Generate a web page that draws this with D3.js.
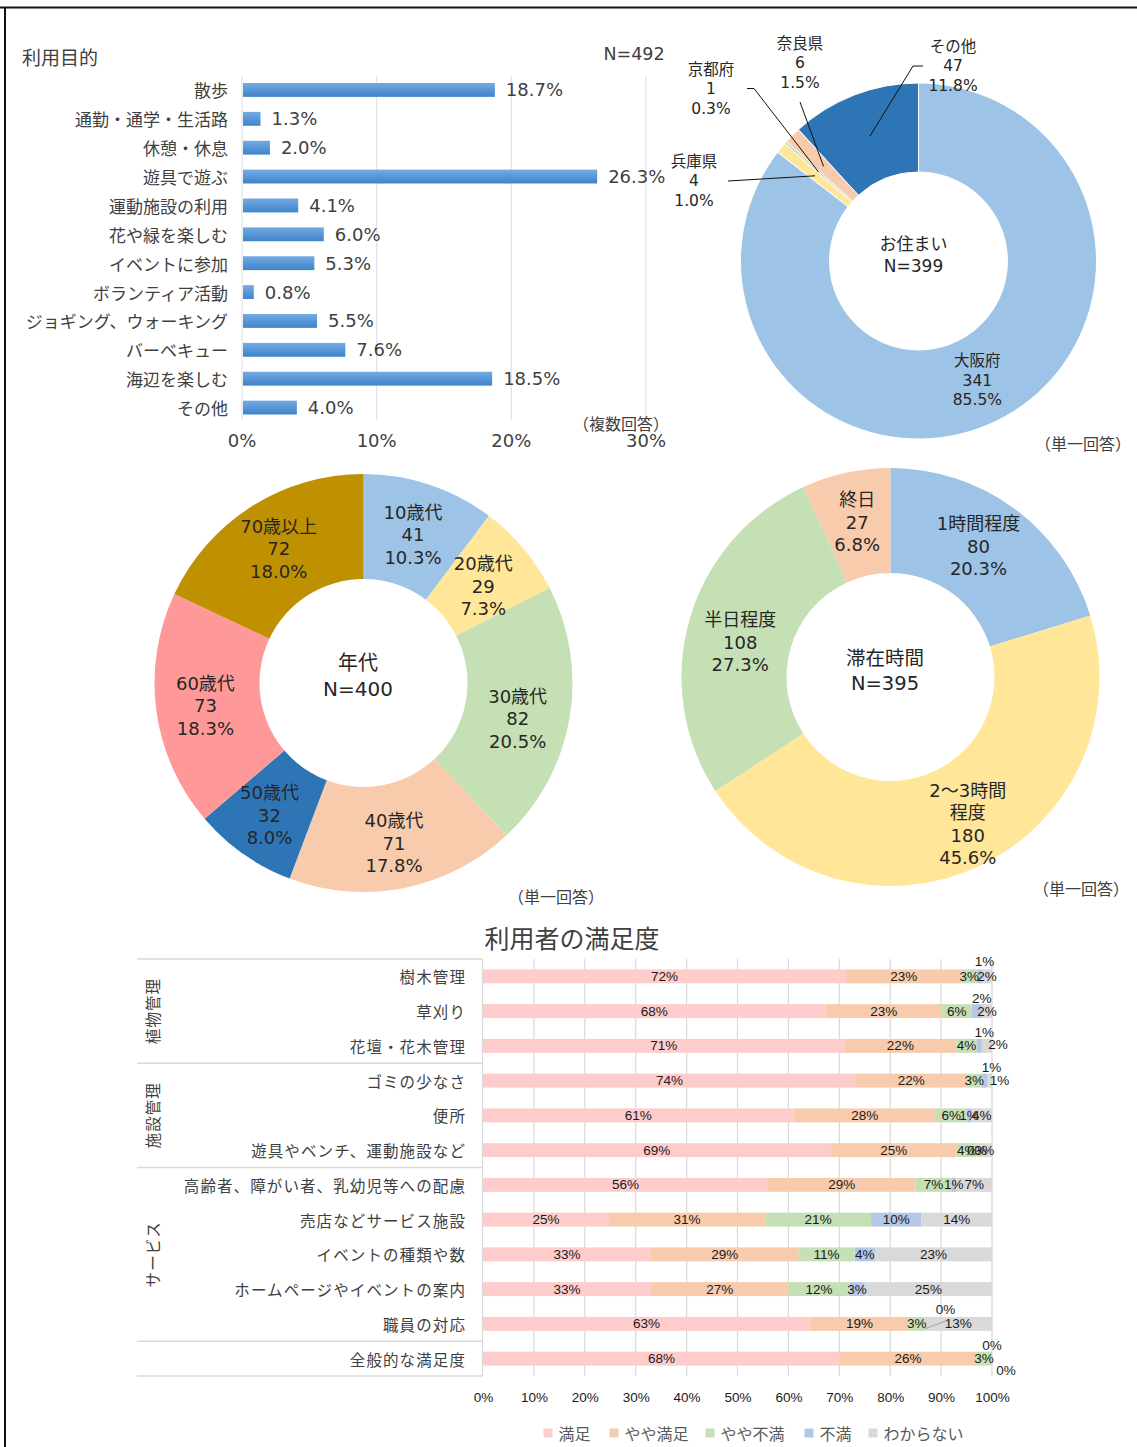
<!DOCTYPE html>
<html>
<head>
<meta charset="utf-8">
<script src="https://cdnjs.cloudflare.com/ajax/libs/d3/7.8.5/d3.min.js"></script>
<style>
  body { margin: 0; background: #fff; }
  svg { display: block; font-family: "DejaVu Sans", "Noto Sans CJK JP", sans-serif; }
  .jp { font-family: "Noto Sans CJK JP", "Noto Sans", sans-serif; }
</style>
</head>
<body>
<svg id="viz" width="1137" height="1447"></svg>
<script>
// ---- 利用目的 (複数回答) ----
const purposeNames = ["散歩", "通勤・通学・生活路", "休憩・休息", "遊具で遊ぶ", "運動施設の利用", "花や緑を楽しむ",
  "イベントに参加", "ボランティア活動", "ジョギング、ウォーキング", "バーベキュー", "海辺を楽しむ", "その他"];
const purposeValues = [18.7, 1.3, 2.0, 26.3, 4.1, 6.0, 5.3, 0.8, 5.5, 7.6, 18.5, 4.0];
const purposeTicks = [0, 10, 20, 30];

// ---- お住まい ----
const homeNames = ["大阪府", "兵庫県", "京都府", "奈良県", "その他"];
const homeCounts = [341, 4, 1, 6, 47];
const homePcts = ["85.5%", "1.0%", "0.3%", "1.5%", "11.8%"];

// ---- 年代 ----
const ageNames = ["10歳代", "20歳代", "30歳代", "40歳代", "50歳代", "60歳代", "70歳以上"];
const ageCounts = [41, 29, 82, 71, 32, 73, 72];
const agePcts = ["10.3%", "7.3%", "20.5%", "17.8%", "8.0%", "18.3%", "18.0%"];

// ---- 滞在時間 ----
const stayNames = ["1時間程度", "2〜3時間\n程度", "半日程度", "終日"];
const stayCounts = [80, 180, 108, 27];
const stayPcts = ["20.3%", "45.6%", "27.3%", "6.8%"];

// ---- 利用者の満足度 ----
const satItems = ["樹木管理", "草刈り", "花壇・花木管理", "ゴミの少なさ", "便所", "遊具やベンチ、運動施設など",
  "高齢者、障がい者、乳幼児等への配慮", "売店などサービス施設", "イベントの種類や数",
  "ホームページやイベントの案内", "職員の対応", "全般的な満足度"];
const satGroupNames = ["植物管理", "施設管理", "サービス", ""];
const satGroupSizes = [3, 3, 5, 1];
const satSeries = ["満足", "やや満足", "やや不満", "不満", "わからない"];
const satManzoku   = [72, 68, 71, 74, 61, 69, 56, 25, 33, 33, 63, 68];
const satYayaMan   = [23, 23, 22, 22, 28, 25, 29, 31, 29, 27, 19, 26];
const satYayaFu    = [3, 6, 4, 3, 6, 4, 7, 21, 11, 12, 3, 3];
const satFuman     = [1, 2, 1, 1, 1, 0, 1, 10, 4, 3, 0, 0];
const satWakaranai = [2, 2, 2, 1, 4, 3, 7, 14, 23, 25, 13, 0];
const satTicks = [0, 0.1, 0.2, 0.3, 0.4, 0.5, 0.6, 0.7, 0.8, 0.9, 1];

const svg = d3.select("#viz");
const txt = "#404040";

// frame
svg.append("line").attr("x1", 0).attr("x2", 1137).attr("y1", 7.5).attr("y2", 7.5)
  .attr("stroke", "#111").attr("stroke-width", 2);
svg.append("line").attr("x1", 5).attr("x2", 5).attr("y1", 7).attr("y2", 1447)
  .attr("stroke", "#111").attr("stroke-width", 2);

// ================= bar chart =================
const defs = svg.append("defs");
const grad = defs.append("linearGradient").attr("id", "barGrad")
  .attr("x1", 0).attr("x2", 0).attr("y1", 0).attr("y2", 1);
grad.append("stop").attr("offset", "0%").attr("stop-color", "#74aae2");
grad.append("stop").attr("offset", "100%").attr("stop-color", "#3e84cb");

const xBar = d3.scaleLinear().domain([0, 30]).range([242, 646]);
const yBar = d3.scaleBand().domain(purposeNames).range([75.5, 422])
  .paddingInner(0.52).paddingOuter(0.26);

const bar = svg.append("g");
bar.selectAll("line.grid").data(purposeTicks).enter().append("line")
  .attr("x1", d => xBar(d)).attr("x2", d => xBar(d))
  .attr("y1", 76).attr("y2", 420)
  .attr("stroke", "#dfe3ea").attr("stroke-width", 1.2);

bar.selectAll("rect").data(purposeValues).enter().append("rect")
  .attr("x", xBar(0) + 1)
  .attr("y", (d, i) => yBar(purposeNames[i]))
  .attr("width", d => xBar(d) - xBar(0))
  .attr("height", yBar.bandwidth())
  .attr("fill", "url(#barGrad)");

bar.selectAll("text.cat").data(purposeNames).enter().append("text")
  .attr("class", "jp")
  .attr("x", 228).attr("y", d => yBar(d) + yBar.bandwidth() / 2)
  .attr("text-anchor", "end").attr("dominant-baseline", "central")
  .attr("font-size", 17).attr("fill", txt).text(d => d);

bar.selectAll("text.val").data(purposeValues).enter().append("text")
  .attr("x", d => xBar(d) + 12)
  .attr("y", (d, i) => yBar(purposeNames[i]) + yBar.bandwidth() / 2)
  .attr("dominant-baseline", "central")
  .attr("font-size", 18).attr("fill", txt).text(d => d.toFixed(1) + "%");

bar.selectAll("text.tick").data(purposeTicks).enter().append("text")
  .attr("x", d => xBar(d)).attr("y", 440)
  .attr("text-anchor", "middle").attr("dominant-baseline", "central")
  .attr("font-size", 18).attr("fill", txt).text(d => d + "%");

bar.append("text").attr("class", "jp").attr("x", 22).attr("y", 56).attr("dominant-baseline", "central")
  .attr("font-size", 19).attr("fill", txt).text("利用目的");
bar.append("text").attr("x", 634).attr("y", 54).attr("text-anchor", "middle").attr("dominant-baseline", "central")
  .attr("font-size", 17.5).attr("fill", txt).text("N=492");
bar.append("text").attr("class", "jp").attr("x", 621).attr("y", 423).attr("text-anchor", "middle").attr("dominant-baseline", "central")
  .attr("font-size", 16).attr("fill", txt).text("（複数回答）");

// ================= donuts =================
function drawDonut(o) {
  const g = svg.append("g").attr("transform", `translate(${o.cx},${o.cy})`);
  const pie = d3.pie().sort(null).value(d => d);
  const arcs = pie(o.counts);
  const arc = d3.arc().innerRadius(o.rIn).outerRadius(o.rOut);

  g.selectAll("path").data(arcs).enter().append("path")
    .attr("d", arc)
    .attr("fill", (d, i) => o.colors[i])
    .attr("stroke", "#fff").attr("stroke-width", o.sep);

  arcs.forEach((a, i) => {
    const lines = o.names[i].split("\n").concat([String(o.counts[i]), o.pcts[i]]);
    let cx, cy;
    const callout = o.callouts && o.callouts[o.names[i]];
    if (callout) {
      cx = callout.lx - o.cx; cy = callout.ly - o.cy;
      const mid = (a.startAngle + a.endAngle) / 2;
      const end = [Math.sin(mid) * 134, -Math.cos(mid) * 134];
      const pts = callout.line.map(p => [p[0] - o.cx, p[1] - o.cy]).concat([end]);
      g.append("path").attr("d", d3.line()(pts))
        .attr("fill", "none").attr("stroke", "#111").attr("stroke-width", 1);
    } else {
      const c = arc.centroid(a);
      const off = (o.shift && o.shift[i]) || [0, 0];
      cx = c[0] + off[0]; cy = c[1] + off[1];
    }
    const t = g.append("text").attr("text-anchor", "middle").attr("font-size", o.fs).attr("fill", "#262626");
    const n = lines.length;
    lines.forEach((ln, k) => {
      t.append("tspan").attr("x", cx)
        .attr("y", cy + (k - (n - 1) / 2) * o.lh)
        .attr("dominant-baseline", "central").text(ln);
    });
  });

  const ct = g.append("text").attr("text-anchor", "middle").attr("font-size", o.cfs).attr("fill", "#262626");
  o.center.forEach((ln, k) => {
    ct.append("tspan").attr("x", o.cdx).attr("y", o.cdy + (k - (o.center.length - 1) / 2) * o.clh)
      .attr("dominant-baseline", "central").text(ln);
  });

  svg.append("text").attr("class", "jp").attr("x", o.noteX).attr("y", o.noteY).attr("text-anchor", "middle")
    .attr("dominant-baseline", "central").attr("font-size", 16).attr("fill", txt).text("（単一回答）");
}

drawDonut({
  cx: 918.5, cy: 261, rOut: 178, rIn: 89,
  names: homeNames, counts: homeCounts, pcts: homePcts,
  colors: ["#9dc3e6", "#ffe699", "#c5e0b4", "#f8cbad", "#2e75b6"],
  sep: 1, fs: 15.5, lh: 19.5,
  callouts: {
    "兵庫県": { lx: 694, ly: 181, line: [[728, 181]] },
    "京都府": { lx: 711, ly: 89, line: [[747, 88.5], [754, 88.5]] },
    "奈良県": { lx: 800, ly: 63, line: [[800, 102]] },
    "その他": { lx: 953, ly: 66, line: [[923, 66], [913, 66]] }
  },
  center: ["お住まい", "N=399"], cfs: 17, clh: 22.5, cdx: -5, cdy: -6,
  noteX: 1083, noteY: 443
});

drawDonut({
  cx: 363.5, cy: 683, rOut: 209, rIn: 104,
  names: ageNames, counts: ageCounts, pcts: agePcts,
  colors: ["#9dc3e6", "#ffe699", "#c5e0b4", "#f8cbad", "#2e75b6", "#ff9999", "#bf9000"],
  sep: 0, fs: 18, lh: 22.5,
  shift: [[0, 0], [0, 4], [0, 9], [0, 7], [-4, 4], [-3, 2], [-1, -2]],
  center: ["年代", "N=400"], cfs: 20, clh: 26.5, cdx: -5.5, cdy: -7,
  noteX: 556, noteY: 896
});

drawDonut({
  cx: 890.5, cy: 677, rOut: 209, rIn: 104,
  names: stayNames, counts: stayCounts, pcts: stayPcts,
  colors: ["#9dc3e6", "#ffe699", "#c5e0b4", "#f8cbad"],
  sep: 0, fs: 18, lh: 22.5,
  shift: [[-5, -5], [11, 5], [0, 9], [0, -2]],
  center: ["滞在時間", "N=395"], cfs: 19.5, clh: 25, cdx: -5.5, cdy: -6.5,
  noteX: 1081, noteY: 888
});

// ================= 100% stacked bar =================
const satColors = ["#ffcccc", "#f8cbad", "#c5e0b4", "#b4c7e7", "#d9d9d9"];
const satTable = satItems.map((item, i) => ({
  item,
  "満足": satManzoku[i], "やや満足": satYayaMan[i], "やや不満": satYayaFu[i],
  "不満": satFuman[i], "わからない": satWakaranai[i]
}));
const layers = d3.stack().keys(satSeries).offset(d3.stackOffsetExpand)(satTable);

const xS = d3.scaleLinear().domain([0, 1]).range([483, 992]);
const yS = d3.scaleBand().domain(satItems).range([959, 1376]).paddingInner(0.6).paddingOuter(0.3);

const sat = svg.append("g").attr("class", "jp");
sat.append("text").attr("x", 572).attr("y", 937).attr("text-anchor", "middle").attr("dominant-baseline", "central")
  .attr("font-size", 25).attr("fill", txt).text("利用者の満足度");

sat.selectAll("line.grid").data(satTicks.slice(1)).enter().append("line")
  .attr("x1", d => xS(d)).attr("x2", d => xS(d)).attr("y1", 959).attr("y2", 1376)
  .attr("stroke", "#d9d9d9").attr("stroke-width", 1.2);
sat.append("line").attr("x1", 482.5).attr("x2", 482.5).attr("y1", 959).attr("y2", 1376)
  .attr("stroke", "#d9d9d9").attr("stroke-width", 1.2);

// group boundaries
const step = yS.step();
const bounds = [0];
satGroupSizes.forEach(s => bounds.push(bounds[bounds.length - 1] + s));
sat.selectAll("line.grp").data(bounds).enter().append("line")
  .attr("x1", 137).attr("x2", 482.5)
  .attr("y1", d => 959 + d * step).attr("y2", d => 959 + d * step)
  .attr("stroke", "#d9d9d9").attr("stroke-width", 1.5);
satGroupNames.forEach((name, i) => {
  if (!name) return;
  const yc = 959 + (bounds[i] + bounds[i + 1]) / 2 * step;
  sat.append("text").attr("transform", `translate(152,${yc}) rotate(-90)`)
    .attr("text-anchor", "middle").attr("dominant-baseline", "central")
    .attr("font-size", 15.5).attr("fill", txt).attr("letter-spacing", 1).text(name);
});

sat.selectAll("text.cat").data(satItems).enter().append("text")
  .attr("x", 466).attr("y", d => yS(d) + yS.bandwidth() / 2)
  .attr("text-anchor", "end").attr("dominant-baseline", "central")
  .attr("font-size", 15.5).attr("fill", txt).attr("letter-spacing", 1.1).text(d => d);

const layerG = sat.selectAll("g.layer").data(layers).enter().append("g")
  .attr("fill", (d, i) => satColors[i]);
layerG.selectAll("rect").data(d => d).enter().append("rect")
  .attr("x", d => xS(d[0])).attr("y", d => yS(d.data.item))
  .attr("width", d => xS(d[1]) - xS(d[0])).attr("height", yS.bandwidth());

// label nudges for tiny segments (row-series : [dx, dy])
const nudge = {
  "0-3": [5, -15], "1-3": [5, -13], "2-3": [5, -13], "2-4": [11, -1],
  "3-3": [7, -13], "3-4": [10, 0], "10-3": [21, -14], "11-3": [0, -13], "11-4": [14, 12]
};
layers.forEach((layer, si) => {
  layer.forEach((d, ri) => {
    const v = satTable[ri][satSeries[si]];
    const nd = nudge[ri + "-" + si] || [0, 0];
    const x0 = xS((d[0] + d[1]) / 2), y0 = yS(d.data.item) + yS.bandwidth() / 2;
    sat.append("text").attr("x", x0 + nd[0]).attr("y", y0 + nd[1])
      .attr("text-anchor", "middle").attr("dominant-baseline", "central")
      .attr("font-family", "'Liberation Sans', Arial, sans-serif")
      .attr("font-size", 13.5).attr("fill", "#1a1a1a").text(v + "%");
    if (ri === 10 && si === 3) {
      sat.append("line").attr("x1", x0).attr("y1", y0 + 5).attr("x2", x0 + 22).attr("y2", y0 - 3)
        .attr("stroke", "#a6a6a6").attr("stroke-width", 1);
    }
  });
});

const xAxis = d3.axisBottom(xS).tickValues(satTicks).tickFormat(d3.format(".0%")).tickSize(0);
const axG = sat.append("g").attr("transform", "translate(0,1389)").call(xAxis);
axG.select(".domain").remove();
axG.selectAll("text").attr("font-family", "'Liberation Sans', Arial, sans-serif")
  .attr("font-size", 13.5).attr("fill", "#1a1a1a");

// legend
const legX = [543.5, 609.5, 705.5, 804.5, 868.5];
const leg = sat.selectAll("g.leg").data(satSeries).enter().append("g")
  .attr("transform", (d, i) => `translate(${legX[i]},1433)`);
leg.append("rect").attr("x", 0).attr("y", -4.5).attr("width", 9).attr("height", 9)
  .attr("fill", (d, i) => satColors[i]);
leg.append("text").attr("x", 15).attr("y", 0).attr("dominant-baseline", "central")
  .attr("font-size", 16).attr("fill", "#595959").text(d => d);
</script>
</body>
</html>
